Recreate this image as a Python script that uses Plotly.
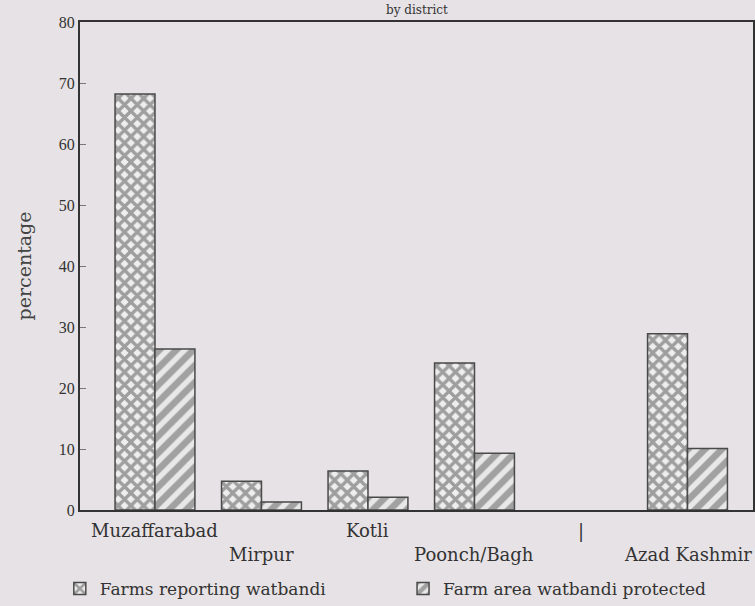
import plotly.graph_objects as go

# data
districts = ["Muzaffarabad", "Mirpur", "Kotli", "Poonch/Bagh", "|", "Azad Kashmir"]
farms_reporting = [68.2, 4.7, 6.4, 24.1, None, 28.9]
area_protected = [26.4, 1.3, 2.1, 9.3, None, 10.1]
y_ticks = [0, 10, 20, 30, 40, 50, 60, 70, 80]

paper = '#e6e2e5'
ink = '#333333'
serif = 'DejaVu Serif, Liberation Serif, serif'
serif2 = 'Liberation Serif, DejaVu Serif, serif'

fig = go.Figure()

fig.add_trace(go.Bar(
    x=districts, y=farms_reporting, name='Farms reporting watbandi',
    legend='legend',
    marker=dict(color=paper, line=dict(color='#4a4a4a', width=1.5),
                pattern=dict(shape='x', fgcolor='#4d4d4d', bgcolor='#eeeeee',
                             size=9, solidity=0.6)),
))
fig.add_trace(go.Bar(
    x=districts, y=area_protected, name='Farm area watbandi protected',
    legend='legend2',
    marker=dict(color=paper, line=dict(color='#4a4a4a', width=1.5),
                pattern=dict(shape='/', fgcolor='#5a5a5a', bgcolor='#e8e8e8',
                             size=12, solidity=0.55)),
))

# staggered category labels
annots = []
for i, d in enumerate(districts):
    lower = i % 2 == 1 and d != '|'
    annots.append(dict(x=d, xref='x', y=-0.017 if not lower else -0.065, yref='paper',
                       text=d, showarrow=False, xanchor='center', yanchor='top',
                       font=dict(family=serif, size=18, color=ink)))
annots.append(dict(x=0.5, xref='paper', y=1.0, yref='paper', yshift=12,
                   text='by district', showarrow=False, xanchor='center', yanchor='middle',
                   font=dict(family=serif, size=12, color=ink)))

leg_style = dict(orientation='h', y=-0.125, xanchor='left', yanchor='top',
                 bgcolor='rgba(0,0,0,0)', itemwidth=30,
                 font=dict(family=serif, size=17, color=ink))

fig.update_layout(
    width=755, height=606,
    margin=dict(l=80, r=2, t=22, b=96, autoexpand=False),
    paper_bgcolor=paper, plot_bgcolor=paper,
    barmode='group', bargap=0.25, bargroupgap=0,
    font=dict(family=serif, size=14, color=ink),
    annotations=annots,
    showlegend=True,
    legend=dict(x=-0.03, **leg_style),
    legend2=dict(x=0.48, **leg_style),
)

fig.update_xaxes(range=[-0.704, 5.615], showticklabels=False, ticks='',
                 showgrid=False, zeroline=False, showline=True, mirror=True,
                 linecolor=ink, linewidth=2, automargin=False)
fig.update_yaxes(range=[0, 80], tickvals=y_ticks, ticks='inside', ticklen=6,
                 tickcolor='#777777', showgrid=False, zeroline=False,
                 showline=True, mirror=True, linecolor=ink, linewidth=2,
                 automargin=False,
                 title=dict(text='percentage', standoff=22,
                            font=dict(family=serif, size=19, color='#444444')),
                 tickfont=dict(family=serif2, size=16, color=ink))

fig.write_html("out.html", config={'displayModeBar': False},
               post_script="document.body.style.margin='0';")
